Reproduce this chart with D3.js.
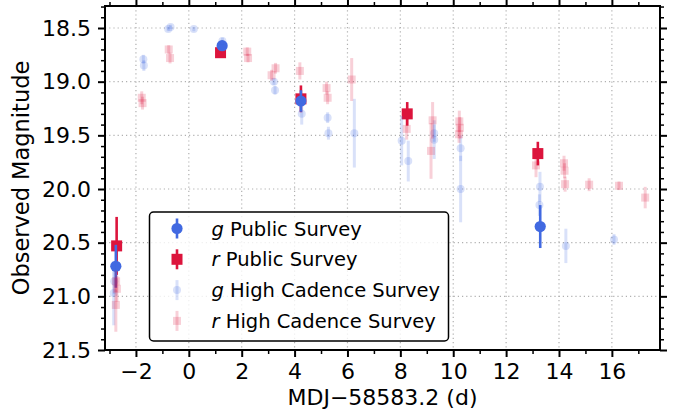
<!DOCTYPE html>
<html>
<head>
<meta charset="utf-8">
<script src="https://cdn.jsdelivr.net/npm/d3@7"></script>
<style>
  body { margin: 0; background: #fff; }
  svg { font-family: "DejaVu Sans", sans-serif; }
</style>
</head>
<body>
<svg id="chart"></svg>
<script>
const width = 675, height = 414;

// Public survey, g band
const gPubT   = [-2.76, 1.26, 4.24, 13.29];
const gPubMag = [20.72, 18.665, 19.18, 20.35];
const gPubErr = [0.20, 0.03, 0.10, 0.20];

// Public survey, r band
const rPubT   = [-2.73, 1.20, 4.24, 8.26, 13.20];
const rPubMag = [20.53, 18.73, 19.16, 19.30, 19.67];
const rPubErr = [0.27, 0.03, 0.125, 0.11, 0.11];

// High cadence survey, g band
const gHcT   = [-2.82, -2.84, -1.72, -1.70, -0.78, -0.69, 0.19, 1.27, 3.22, 3.26, 4.27, 5.25, 5.28, 6.26,
                8.05, 8.30, 9.28, 9.28, 10.28, 10.28, 13.28, 13.26, 14.26, 16.08];
const gHcMag = [20.86, 20.97, 18.79, 18.85, 18.51, 18.49, 18.51, 18.62, 19.00, 19.08, 19.30, 19.335, 19.48, 19.48,
                19.55, 19.74, 19.48, 19.54, 19.62, 20.00, 19.98, 20.15, 20.53, 20.47];
const gHcErr = [0.12, 0.30, 0.04, 0.05, 0.02, 0.02, 0.02, 0.03, 0.03, 0.04, 0.10, 0.05, 0.06, 0.32,
                0.23, 0.19, 0.08, 0.18, 0.12, 0.31, 0.14, 0.10, 0.16, 0.05];

// High cadence survey, r band
const rHcT   = [-2.75, -2.72, -2.76, -1.78, -1.75, -0.76, -0.71, 2.21, 2.24, 3.13, 3.28, 4.20, 5.21, 5.25,
                6.16, 8.24, 9.22, 9.16, 10.23, 10.25, 10.22, 13.13, 14.19, 14.21, 14.23, 15.14, 16.27, 17.26];
const rHcMag = [20.86, 20.93, 21.08, 19.15, 19.20, 18.70, 18.78, 18.72, 18.78, 18.94, 18.875, 18.90, 19.06, 19.15,
                18.98, 19.44, 19.36, 19.645, 19.37, 19.43, 19.49, 19.78, 19.76, 19.83, 19.955, 19.96, 19.97, 20.08];
const rHcErr = [0.10, 0.12, 0.25, 0.06, 0.06, 0.04, 0.05, 0.04, 0.04, 0.05, 0.05, 0.08, 0.06, 0.06,
                0.20, 0.10, 0.17, 0.26, 0.10, 0.10, 0.08, 0.11, 0.07, 0.07, 0.07, 0.06, 0.04, 0.10];

const xMajor = [-2, 0, 2, 4, 6, 8, 10, 12, 14, 16];
const yMajor = [18.5, 19.0, 19.5, 20.0, 20.5, 21.0, 21.5];

const legendLabels = [["g", " Public Survey"], ["r", " Public Survey"],
                      ["g", " High Cadence Survey"], ["r", " High Cadence Survey"]];

const blue = "#4169e1", red = "#dc143c";

const svg = d3.select("#chart").attr("width", width).attr("height", height);

const plot = {left: 105, right: 660, top: 6, bottom: 350};
const x = d3.scaleLinear().domain([-3.17, 17.82]).range([plot.left, plot.right]);
const y = d3.scaleLinear().domain([18.295, 21.5]).range([plot.top, plot.bottom]);

const xMinor = d3.range(-3, 18, 1).filter(d => !xMajor.includes(d));
const yMinor = d3.range(18.3, 21.55, 0.1).map(d => +d.toFixed(1)).filter(d => !yMajor.some(m => Math.abs(m - d) < 1e-6));

// grid
const grid = svg.append("g");
grid.selectAll("line.gx").data(xMajor).enter().append("line")
  .attr("x1", d => x(d)).attr("x2", d => x(d))
  .attr("y1", plot.top).attr("y2", plot.bottom);
grid.selectAll("line.gy").data(yMajor).enter().append("line")
  .attr("y1", d => y(d)).attr("y2", d => y(d))
  .attr("x1", plot.left).attr("x2", plot.right);
grid.selectAll("line")
  .attr("stroke", "#b0b0b0").attr("stroke-width", 1.2)
  .attr("stroke-dasharray", "1.2,3");

// data series
function drawSeries(ts, mags, errs, color, opacity, lw, shape, size) {
  const g = svg.append("g");
  const rows = ts.map((t, i) => ({t: t, m: mags[i], e: errs[i]}));
  g.selectAll("line").data(rows).enter().append("line")
    .attr("x1", d => x(d.t)).attr("x2", d => x(d.t))
    .attr("y1", d => y(d.m - d.e)).attr("y2", d => y(d.m + d.e))
    .attr("stroke", color).attr("stroke-width", lw).attr("stroke-opacity", opacity);
  if (shape === "circle") {
    g.selectAll("circle").data(rows).enter().append("circle")
      .attr("cx", d => x(d.t)).attr("cy", d => y(d.m)).attr("r", size)
      .attr("fill", color).attr("fill-opacity", opacity);
  } else {
    g.selectAll("rect").data(rows).enter().append("rect")
      .attr("x", d => x(d.t) - size).attr("y", d => y(d.m) - size)
      .attr("width", size * 2).attr("height", size * 2)
      .attr("fill", color).attr("fill-opacity", opacity);
  }
}

drawSeries(rPubT, rPubMag, rPubErr, red, 1, 2.6, "square", 5.5);
drawSeries(gPubT, gPubMag, gPubErr, blue, 1, 2.6, "circle", 5.6);
drawSeries(gHcT, gHcMag, gHcErr, blue, 0.2, 3, "circle", 4);
drawSeries(rHcT, rHcMag, rHcErr, red, 0.2, 3, "square", 4);

// axes
function styleAxis(sel, w) {
  sel.select(".domain").remove();
  sel.selectAll(".tick line").attr("stroke", "#000").attr("stroke-width", w);
  sel.selectAll(".tick text").attr("fill", "#000");
  sel.attr("font-family", null);
}

const xb = svg.append("g").attr("transform", `translate(0,${plot.bottom})`)
  .call(d3.axisBottom(x).tickValues(xMajor).tickSize(7).tickPadding(6).tickFormat(d3.format("d")))
  .attr("font-size", 22);
styleAxis(xb, 2);
const xbm = svg.append("g").attr("transform", `translate(0,${plot.bottom})`)
  .call(d3.axisBottom(x).tickValues(xMinor).tickSize(4).tickFormat(""));
styleAxis(xbm, 1.5);
const xt = svg.append("g").attr("transform", `translate(0,${plot.top})`)
  .call(d3.axisTop(x).tickValues(xMajor).tickSize(7).tickFormat(""));
styleAxis(xt, 2);
const xtm = svg.append("g").attr("transform", `translate(0,${plot.top})`)
  .call(d3.axisTop(x).tickValues(xMinor).tickSize(4).tickFormat(""));
styleAxis(xtm, 1.5);

const yl = svg.append("g").attr("transform", `translate(${plot.left},0)`)
  .call(d3.axisLeft(y).tickValues(yMajor).tickSize(7).tickPadding(7).tickFormat(d3.format(".1f")))
  .attr("font-size", 22);
styleAxis(yl, 2);
const ylm = svg.append("g").attr("transform", `translate(${plot.left},0)`)
  .call(d3.axisLeft(y).tickValues(yMinor).tickSize(4).tickFormat(""));
styleAxis(ylm, 1.5);
const yr = svg.append("g").attr("transform", `translate(${plot.right},0)`)
  .call(d3.axisRight(y).tickValues(yMajor).tickSize(7).tickFormat(""));
styleAxis(yr, 2);
const yrm = svg.append("g").attr("transform", `translate(${plot.right},0)`)
  .call(d3.axisRight(y).tickValues(yMinor).tickSize(4).tickFormat(""));
styleAxis(yrm, 1.5);

// frame
svg.append("rect")
  .attr("x", plot.left).attr("y", plot.top)
  .attr("width", plot.right - plot.left).attr("height", plot.bottom - plot.top)
  .attr("fill", "none").attr("stroke", "#000").attr("stroke-width", 2);

// axis labels
svg.append("text")
  .attr("x", (plot.left + plot.right) / 2).attr("y", 405)
  .attr("text-anchor", "middle").attr("font-size", 22)
  .text("MDJ\u221258583.2 (d)");
svg.append("text")
  .attr("transform", `translate(29,${(plot.top + plot.bottom) / 2}) rotate(-90)`)
  .attr("text-anchor", "middle").attr("font-size", 22.5)
  .text("Observed Magnitude");

// legend
const legend = svg.append("g");
legend.append("rect")
  .attr("x", 149.5).attr("y", 212).attr("width", 299).attr("height", 129)
  .attr("rx", 4).attr("fill", "#fff").attr("fill-opacity", 0.8)
  .attr("stroke", "#000").attr("stroke-width", 1.5);

const legendStyle = [
  {color: blue, opacity: 1, shape: "circle", size: 5.6, lw: 2.6},
  {color: red, opacity: 1, shape: "square", size: 5.5, lw: 2.6},
  {color: blue, opacity: 0.2, shape: "circle", size: 4, lw: 3},
  {color: red, opacity: 0.2, shape: "square", size: 4, lw: 3}
];
legendLabels.forEach((lab, i) => {
  const cy = 228.5 + i * 30.8, cx = 177;
  const s = legendStyle[i];
  legend.append("line")
    .attr("x1", cx).attr("x2", cx).attr("y1", cy - 10).attr("y2", cy + 10)
    .attr("stroke", s.color).attr("stroke-width", s.lw).attr("stroke-opacity", s.opacity);
  if (s.shape === "circle") {
    legend.append("circle").attr("cx", cx).attr("cy", cy).attr("r", s.size)
      .attr("fill", s.color).attr("fill-opacity", s.opacity);
  } else {
    legend.append("rect").attr("x", cx - s.size).attr("y", cy - s.size)
      .attr("width", s.size * 2).attr("height", s.size * 2)
      .attr("fill", s.color).attr("fill-opacity", s.opacity);
  }
  const t = legend.append("text").attr("x", 211.5).attr("y", cy).attr("dy", "0.36em")
    .attr("font-size", 19.5);
  t.append("tspan").attr("font-style", "italic").text(lab[0]);
  t.append("tspan").text(lab[1]);
});
</script>
</body>
</html>
